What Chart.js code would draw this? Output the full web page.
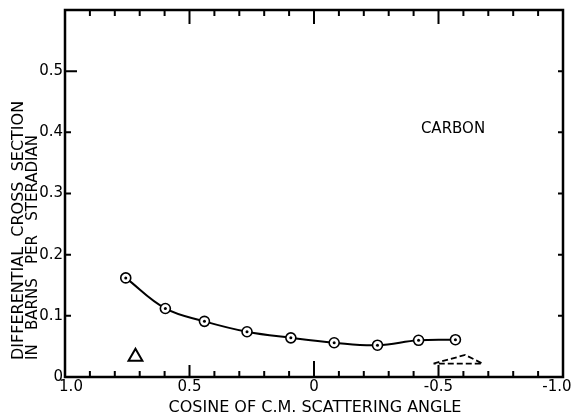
<!DOCTYPE html>
<html>
<head>
<meta charset="utf-8">
<script src="https://cdn.jsdelivr.net/npm/chart.js@4"></script>
<style>
  body { margin: 0; background: #fff; }
  #wrap { width: 573px; height: 418px; }
</style>
</head>
<body>
<div id="wrap"><canvas id="myChart" width="573" height="418"></canvas></div>
<script>
// cosine of c.m. angle / cross section (barns per steradian)
const cosAngle = [0.756, 0.597, 0.44, 0.269, 0.093, -0.081, -0.255, -0.42, -0.568]
const crossSection = [0.162, 0.112, 0.091, 0.074, 0.064, 0.056, 0.052, 0.060, 0.061]

// open triangle and dashed triangle markers near the bottom
const triX = [0.717]
const triY = [0.033]
const dashTriX = [-0.48, -0.607, -0.677, -0.48]
const dashTriY = [0.022, 0.036, 0.022, 0.022]

// axis ticks
const xMajor = [1.0, 0.5, 0, -0.5, -1.0]
const xLabels = ['1.0', '0.5', '0', '-0.5', '-1.0']
const xMinor = [0.9, 0.8, 0.7, 0.6, 0.4, 0.3, 0.2, 0.1, -0.1, -0.2, -0.3, -0.4, -0.6, -0.7, -0.8, -0.9]
const yTicks = [0, 0.1, 0.2, 0.3, 0.4, 0.5]
const yLabels = ['0', '0.1', '0.2', '0.3', '0.4', '0.5']

const FONT = '"DejaVu Sans", sans-serif'

function xy(xs, ys) {
  return xs.map((x, i) => ({ x: x, y: ys[i] }))
}

// draws the frame, inward ticks, tick labels and titles
const frame = {
  id: 'frame',
  afterDraw(chart) {
    const ctx = chart.ctx
    const a = chart.chartArea
    const xs = chart.scales.x
    const ys = chart.scales.y
    ctx.save()
    ctx.strokeStyle = '#000'
    ctx.fillStyle = '#000'

    ctx.lineWidth = 2.5
    ctx.strokeRect(a.left, a.top, a.right - a.left, a.bottom - a.top)

    ctx.lineWidth = 2
    ctx.beginPath()
    xMinor.forEach(v => {
      const p = xs.getPixelForValue(v)
      ctx.moveTo(p, a.bottom); ctx.lineTo(p, a.bottom - 6)
      ctx.moveTo(p, a.top); ctx.lineTo(p, a.top + 6)
    })
    xMajor.slice(1, -1).forEach(v => {
      const p = xs.getPixelForValue(v)
      const len = v === 0 ? 16 : 12
      ctx.moveTo(p, a.bottom); ctx.lineTo(p, a.bottom - len)
      ctx.moveTo(p, a.top); ctx.lineTo(p, a.top + 14)
    })
    yTicks.slice(1).forEach(v => {
      const p = ys.getPixelForValue(v)
      const len = v === 0.5 ? 12 : 6
      ctx.moveTo(a.left, p); ctx.lineTo(a.left + len, p)
      ctx.moveTo(a.right, p); ctx.lineTo(a.right - 5, p)
    })
    ctx.stroke()

    ctx.font = '15px ' + FONT
    ctx.textAlign = 'center'
    ctx.textBaseline = 'top'
    xMajor.forEach((v, i) => {
      let p = xs.getPixelForValue(v)
      if (i === 0) p += 6
      if (i === xMajor.length - 1) p -= 6
      ctx.fillText(xLabels[i], p, a.bottom + 3)
    })
    ctx.textAlign = 'right'
    ctx.textBaseline = 'middle'
    yTicks.forEach((v, i) => {
      ctx.fillText(yLabels[i], a.left - 2, ys.getPixelForValue(v))
    })

    ctx.font = '16px ' + FONT
    ctx.textAlign = 'center'
    ctx.fillText('COSINE OF C.M. SCATTERING ANGLE', 315, 408)
    ctx.font = '15px ' + FONT
    ctx.fillText('CARBON', 453, 129)

    ctx.save()
    ctx.translate(19, 360)
    ctx.rotate(-Math.PI / 2)
    ctx.textAlign = 'left'
    ctx.font = '16px ' + FONT
    ctx.fillText('DIFFERENTIAL  CROSS  SECTION', 0, 0)
    ctx.font = '15px ' + FONT
    ctx.fillText('IN   BARNS   PER   STERADIAN', 0, 14)
    ctx.restore()

    ctx.restore()
  }
}

const ctx = document.getElementById('myChart').getContext('2d')

new Chart(ctx, {
  type: 'scatter',
  data: {
    datasets: [
      {
        data: xy(cosAngle, crossSection),
        order: 2,
        showLine: true,
        borderColor: '#000',
        borderWidth: 2,
        tension: 0.4,
        pointRadius: 5,
        pointBorderWidth: 1.6,
        pointBackgroundColor: '#fff',
        pointBorderColor: '#000'
      },
      {
        data: xy(cosAngle, crossSection),
        order: 1,
        showLine: false,
        pointRadius: 1.5,
        pointBorderWidth: 0,
        pointBackgroundColor: '#000'
      },
      {
        data: xy(triX, triY),
        order: 1,
        showLine: false,
        pointStyle: 'triangle',
        pointRadius: 8,
        pointBorderWidth: 2,
        pointBackgroundColor: '#fff',
        pointBorderColor: '#000'
      },
      {
        data: xy(dashTriX, dashTriY),
        order: 1,
        showLine: true,
        borderColor: '#000',
        borderWidth: 1.8,
        borderDash: [6, 3],
        tension: 0,
        pointRadius: 0
      }
    ]
  },
  options: {
    responsive: false,
    animation: false,
    layout: { padding: { left: 65, right: 8, top: 7, bottom: 41 } },
    plugins: { legend: { display: false }, tooltip: { enabled: false } },
    scales: {
      x: { type: 'linear', min: -1, max: 1, reverse: true, display: false },
      y: { type: 'linear', min: 0, max: 0.6, display: false }
    }
  },
  plugins: [frame]
})
</script>
</body>
</html>
